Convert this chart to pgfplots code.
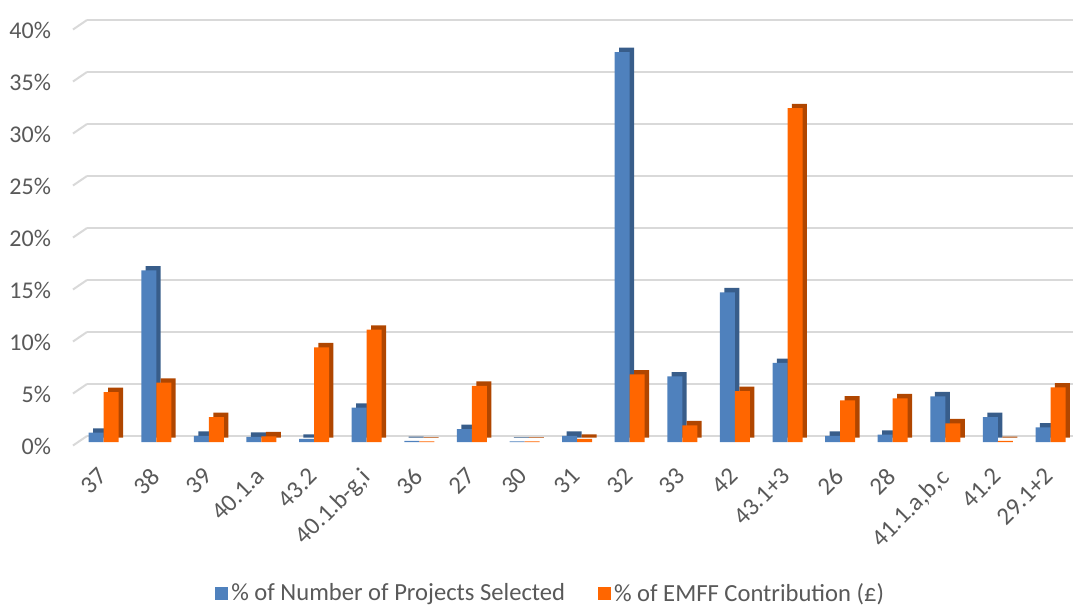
\documentclass[border=0pt]{standalone}
\usepackage{fontspec}
\setmainfont{Carlito}
\usepackage{pgfplots}
\usepackage{pgfplotstable}
\pgfplotsset{compat=1.18}
\definecolor{cblue}{HTML}{4F81BD}
\definecolor{cbluedark}{HTML}{385D8A}
\definecolor{corange}{HTML}{FF6600}
\definecolor{corangedark}{HTML}{B04600}
\definecolor{gridc}{HTML}{D9D9D9}
\definecolor{tickc}{HTML}{595959}

\pgfplotstableread{
idx blue orange
0 0.9 4.8
1 16.5 5.7
2 0.6 2.4
3 0.5 0.55
4 0.3 9.1
5 3.3 10.8
6 0.1 0.05
7 1.25 5.4
8 0.05 0.05
9 0.6 0.3
10 37.5 6.5
11 6.3 1.6
12 14.4 4.9
13 7.6 32.1
14 0.6 4.0
15 0.7 4.2
16 4.4 1.8
17 2.4 0.1
18 1.4 5.25
}\datatable

\begin{document}
\begin{tikzpicture}
\begin{axis}[
  scale only axis,
  width=492.9pt, height=208pt,
  xmin=-0.45, xmax=18.29,
  ymin=0, ymax=40,
  ytick={0,5,...,40},
  yticklabel={\pgfmathprintnumber{\tick}\%},
  /pgf/number format/assume math mode=true,
  xtick=data,
  xticklabels={37,38,39,{40.1.a},43.2,{40.1.b-g,i},36,27,30,31,32,33,42,{43.1+3},26,28,{41.1.a,b,c},41.2,{29.1+2}},
  x tick label style={rotate=45, anchor=north east, font=\fontsize{12.4}{14}\selectfont, text=tickc, xshift=-10pt, yshift=-5pt, inner sep=1pt},
  y tick label style={font=\fontsize{12}{14}\selectfont, text=tickc, xshift=-11pt, yshift=-2pt},
  axis line style={draw=none},
  major tick length=0pt,
  ymajorgrids,
  major grid style={gridc, line width=1pt, xshift=3.5pt, yshift=3pt},
  clip=false,
  ybar, bar width=7.5pt,
  legend columns=2,
  legend style={draw=none, at={(0.478,-0.365)}, anchor=center,
    font=\fontsize{12.3}{14}\selectfont, text=tickc,
    /tikz/every even column/.append style={column sep=15pt},
    nodes={inner sep=1.5pt}},
  legend image code/.code={\path[#1,draw=none] (0pt,-3.25pt) rectangle (6.5pt,3.25pt);},
]
\pgfplotsinvokeforeach{0,5,...,40}{
  \draw[gridc, line width=1pt] (axis cs:-0.45,#1) ++(-3.5pt,-1.75pt) -- ++(7pt,4.75pt);
}
\addplot[fill=cbluedark, draw=none, bar shift=-3.75pt, xshift=2.2pt, yshift=2.2pt, forget plot] table[x=idx, y=blue] {\datatable};
\addplot[fill=corangedark, draw=none, bar shift=3.75pt, xshift=2.2pt, yshift=2.2pt, forget plot] table[x=idx, y=orange] {\datatable};
\addplot[fill=cblue, draw=none, bar shift=-3.75pt] table[x=idx, y=blue] {\datatable};
\addplot[fill=corange, draw=none, bar shift=3.75pt] table[x=idx, y=orange] {\datatable};
\legend{\% of Number of Projects Selected, \% of EMFF Contribution (£)}
\end{axis}
\path[use as bounding box] (-40pt,-81pt) rectangle (497.5pt,221pt);
\end{tikzpicture}
\end{document}
